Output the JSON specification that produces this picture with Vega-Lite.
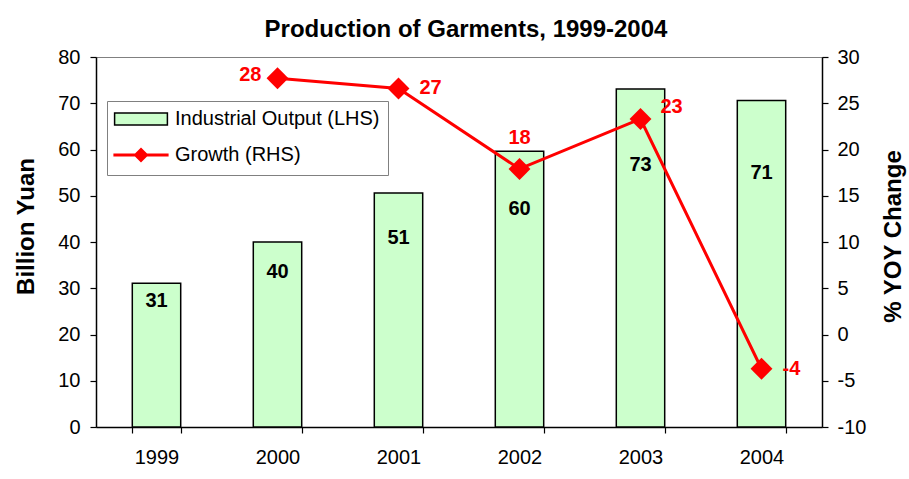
{
  "$schema": "https://vega.github.io/schema/vega-lite/v6.json",
  "width": 726,
  "height": 370,
  "autosize": {"type": "none"},
  "padding": {"left": 96, "top": 57, "right": 87, "bottom": 52},
  "background": "white",
  "config": {
    "font": "Liberation Sans",
    "view": {"stroke": "#808080", "strokeWidth": 1},
    "axis": {"labelColor": "black", "titleColor": "black", "domainColor": "black", "tickColor": "black", "grid": false, "labelFontSize": 20, "domainWidth": 1.5, "tickWidth": 1.2}
  },
  "title": {"text": "Production of Garments, 1999-2004", "fontSize": 24, "fontWeight": "bold", "anchor": "middle", "offset": -14, "baseline": "alphabetic", "color": "black", "dx": 7},
  "data": {
    "values": [
      {"year": "1999", "output": 31.1, "growth": null},
      {"year": "2000", "output": 40.0, "growth": 27.7},
      {"year": "2001", "output": 50.6, "growth": 26.6},
      {"year": "2002", "output": 59.6, "growth": 17.9},
      {"year": "2003", "output": 73.1, "growth": 23.3},
      {"year": "2004", "output": 70.6, "growth": -3.7}
    ]
  },
  "encoding": {
    "x": {
      "field": "year", "type": "ordinal",
      "scale": {"paddingInner": 0.6, "paddingOuter": 0.3},
      "axis": {"title": null, "labelAngle": 0, "tickBand": "extent", "tickSize": 6, "labelPadding": 14}
    }
  },
  "layer": [
    {
      "mark": {"type": "bar", "stroke": "black", "strokeWidth": 1.5},
      "encoding": {
        "y": {
          "field": "output", "type": "quantitative",
          "scale": {"domain": [0, 80], "nice": false},
          "axis": {"orient": "left", "values": [0, 10, 20, 30, 40, 50, 60, 70, 80], "title": "Billion Yuan", "titleFontSize": 24, "titleFontWeight": "bold", "titleAngle": 270, "titleX": -63, "titleY": 169, "titleBaseline": "alphabetic", "titleAlign": "center", "labelPadding": 10, "tickSize": 6}
        },
        "fill": {
          "datum": "Industrial Output (LHS)", "type": "nominal",
          "scale": {"domain": ["Industrial Output (LHS)", "Growth (RHS)"], "range": ["#ccffcc", "#ff0000"]},
          "legend": {
            "title": null, "orient": "none", "legendX": 11, "legendY": 44,
            "fillColor": "white", "strokeColor": "#808080", "padding": 8, "rowPadding": 14,
            "symbolOffset": 16, "labelOffset": 24, "symbolSize": 144, "symbolOpacity": 1,
            "labelFontSize": 20, "labelColor": "black", "labelLimit": 400, "cornerRadius": 0
          }
        }
      }
    },
    {
      "mark": {"type": "text", "fontWeight": "bold", "fontSize": 20, "baseline": "middle", "color": "black"},
      "encoding": {
        "y": {"field": "output", "type": "quantitative", "scale": {"domain": [-7.4, 106.1], "nice": false, "zero": false}, "axis": null},
        "text": {"field": "output", "type": "quantitative", "format": ".0f"}
      }
    },
    {
      "transform": [{"filter": "isValid(datum.growth)"}],
      "encoding": {
        "y": {
          "field": "growth", "type": "quantitative",
          "scale": {"domain": [-10, 30], "nice": false, "zero": false},
          "axis": {"orient": "right", "values": [-10, -5, 0, 5, 10, 15, 20, 25, 30], "labelExpr": "replace(datum.label, '−', '-')", "title": "% YOY Change", "titleFontSize": 24, "titleFontWeight": "bold", "titleAngle": 270, "titleX": 78, "titleY": 179, "titleBaseline": "alphabetic", "titleAlign": "center", "labelPadding": 9, "tickSize": 6}
        }
      },
      "layer": [
        {
          "mark": {"type": "line"},
          "encoding": {
            "stroke": {"datum": "Growth (RHS)", "type": "nominal", "scale": {"domain": ["Industrial Output (LHS)", "Growth (RHS)"], "range": ["#000000", "#ff0000"]}},
            "strokeWidth": {"datum": "Growth (RHS)", "type": "nominal", "scale": {"domain": ["Industrial Output (LHS)", "Growth (RHS)"], "range": [1.5, 3]}}
          }
        },
        {
          "transform": [{"filter": "false"}],
          "mark": {"type": "point", "filled": true},
          "encoding": {
            "shape": {"datum": "Growth (RHS)", "type": "nominal", "scale": {"domain": ["Industrial Output (LHS)", "Growth (RHS)"], "range": ["M-4.4,-1H4.4V1H-4.4Z", "M-4.6,0H4.6M-0.9,0L0,-0.9L0.9,0L0,0.9Z"]}}
          }
        },
        {
          "mark": {"type": "point", "shape": "diamond", "filled": true, "size": 480, "opacity": 1, "color": "#ff0000"},
          "encoding": {}
        },
        {
          "transform": [{"filter": {"field": "year", "equal": "2000"}}],
          "mark": {"type": "text", "fontWeight": "bold", "fontSize": 20, "color": "#ff0000", "align": "right", "baseline": "middle", "dx": -16, "dy": -3, "text": {"expr": "replace(format(datum.growth, '.0f'), '−', '-')"}},
          "encoding": {}
        },
        {
          "transform": [{"filter": {"field": "year", "oneOf": ["2001", "2004"]}}],
          "mark": {"type": "text", "fontWeight": "bold", "fontSize": 20, "color": "#ff0000", "align": "left", "baseline": "middle", "dx": 21, "dy": 0, "text": {"expr": "replace(format(datum.growth, '.0f'), '−', '-')"}},
          "encoding": {}
        },
        {
          "transform": [{"filter": {"field": "year", "equal": "2003"}}],
          "mark": {"type": "text", "fontWeight": "bold", "fontSize": 20, "color": "#ff0000", "align": "left", "baseline": "middle", "dx": 20, "dy": -12, "text": {"expr": "replace(format(datum.growth, '.0f'), '−', '-')"}},
          "encoding": {}
        },
        {
          "transform": [{"filter": {"field": "year", "equal": "2002"}}],
          "mark": {"type": "text", "fontWeight": "bold", "fontSize": 20, "color": "#ff0000", "align": "center", "baseline": "middle", "dx": 0, "dy": -31, "text": {"expr": "replace(format(datum.growth, '.0f'), '−', '-')"}},
          "encoding": {}
        }
      ]
    }
  ],
  "resolve": {"scale": {"y": "independent"}}
}
